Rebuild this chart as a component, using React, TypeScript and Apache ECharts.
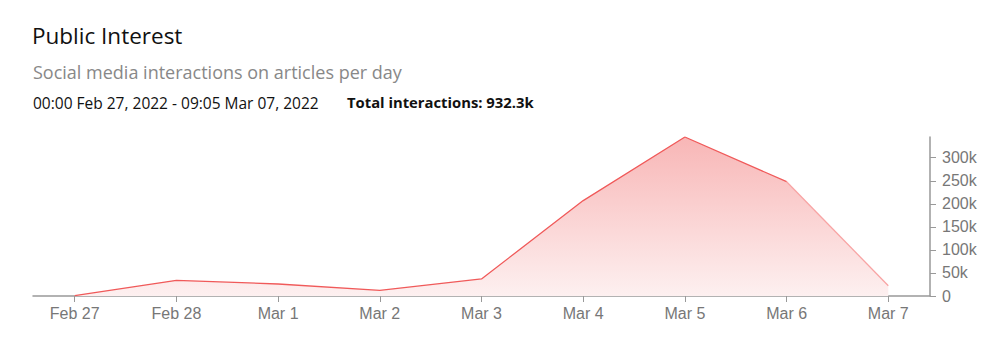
import React, { useEffect, useRef } from "react";
import * as echarts from "echarts";

const categories = ["Feb 27", "Feb 28", "Mar 1", "Mar 2", "Mar 3", "Mar 4", "Mar 5", "Mar 6", "Mar 7"];
const interactions = [1000, 34000, 26000, 12000, 37000, 207000, 345000, 248000, 22300];
const yTickLabels = ["0", "50k", "100k", "150k", "200k", "250k", "300k"];
const titleText = "Public Interest";
const subtitleText = "Social media interactions on articles per day";
const rangeText = "00:00 Feb 27, 2022 - 09:05 Mar 07, 2022";
const totalText = "Total interactions: 932.3k";

const HFONT = "'Open Sans', Lato, sans-serif";
const AFONT = "'Liberation Sans', Arial, Helvetica, sans-serif";

export default function App() {
  const ref = useRef<HTMLDivElement>(null);
  useEffect(() => {
    if (!ref.current) return;
    const chart = echarts.init(ref.current, undefined, { renderer: "svg" });
    const pts = interactions.map((v, i) => [i, v]);
    const lastFull = categories.length - 2;
    const solidPts = pts.slice(0, lastFull + 1);
    const partialPts = pts.slice(lastFull);
    const idx = categories.map((_, i) => i);
    chart.setOption({
      animation: false,
      textStyle: { fontFamily: AFONT },
      graphic: [
        { type: "text", left: 32, top: 24, style: { text: titleText, fontSize: 22.5, fill: "#111", fontFamily: HFONT } },
        { type: "text", left: 33, top: 63, style: { text: subtitleText, fontSize: 18, fill: "#888", fontFamily: HFONT } },
        { type: "text", left: 33, top: 95, style: { text: rangeText, fontSize: 15.5, fill: "#111", fontFamily: HFONT } },
        { type: "text", left: 347, top: 94, style: { text: totalText, fontSize: 14.8, fontWeight: "bold", fill: "#111", fontFamily: HFONT } },
      ],
      grid: { left: 33, right: 70, top: 137, bottom: 56 },
      xAxis: {
        type: "value",
        min: -0.41,
        max: 8.41,
        axisLine: { show: true, onZero: false, lineStyle: { color: "#999", width: 1.5 } },
        axisTick: { show: true, length: 6, customValues: idx, lineStyle: { color: "#999" } },
        splitLine: { show: false },
        axisLabel: {
          customValues: idx,
          color: "#777",
          fontSize: 16,
          margin: 9,
          fontFamily: AFONT,
          formatter: (v: number) => categories[Math.round(v)] ?? "",
        },
      },
      yAxis: {
        type: "value",
        position: "right",
        min: 0,
        max: "dataMax",
        interval: 50000,
        axisLine: { show: true, onZero: false, lineStyle: { color: "#999", width: 1.5 } },
        axisTick: { show: true, length: 6, lineStyle: { color: "#999" } },
        splitLine: { show: false },
        axisLabel: {
          color: "#777",
          fontSize: 16,
          margin: 12,
          fontFamily: AFONT,
          showMaxLabel: false,
          formatter: (v: number) => yTickLabels[Math.round(v / 50000)] ?? "",
        },
      },
      series: [
        {
          type: "line",
          data: pts,
          symbol: "none",
          lineStyle: { width: 0 },
          areaStyle: {
            color: new echarts.graphic.LinearGradient(0, 0, 0, 1, [
              { offset: 0, color: "#f8b6b6" },
              { offset: 1, color: "#fdf0f0" },
            ]),
            opacity: 1,
          },
          z: 1,
        },
        {
          type: "line",
          data: solidPts,
          symbol: "none",
          lineStyle: { color: "#f05a5a", width: 1.3 },
          z: 3,
        },
        {
          type: "line",
          data: partialPts,
          symbol: "none",
          lineStyle: { color: "#f8a4a4", width: 1.3 },
          z: 2,
        },
      ],
    });
    return () => chart.dispose();
  }, []);
  return <div ref={ref} style={{ width: 1000, height: 352, position: "absolute", left: 0, top: 0 }} />;
}
